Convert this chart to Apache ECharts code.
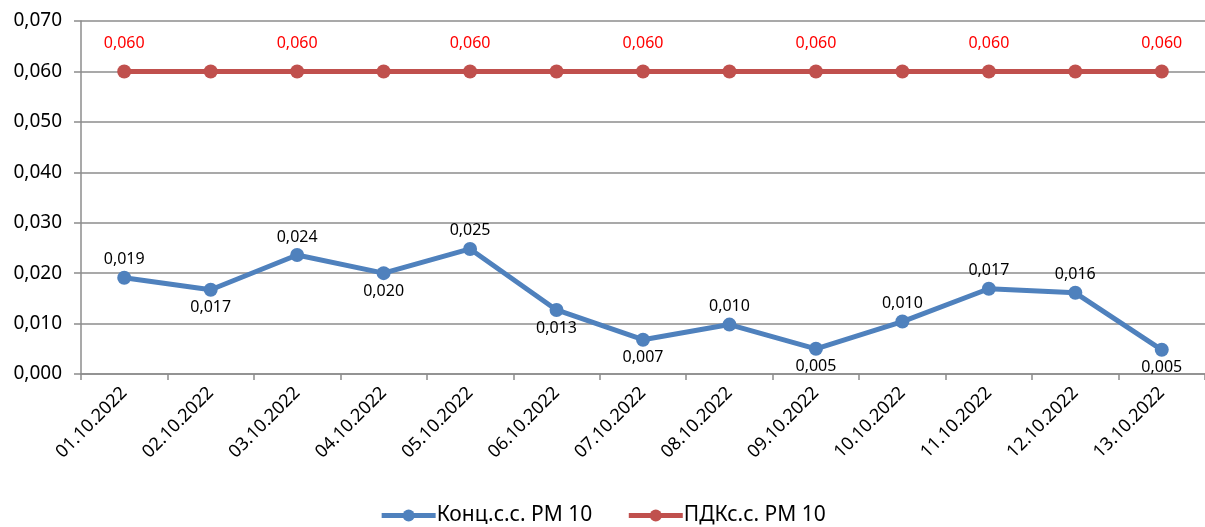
<!DOCTYPE html>
<html>
<head>
<meta charset="utf-8">
<script src="https://cdn.jsdelivr.net/npm/echarts@6/dist/echarts.min.js"></script>
<style>
html,body{margin:0;padding:0;background:#fff;}
#chart{width:1205px;height:527px;}
</style>
</head>
<body>
<div id="chart"></div>
<script>
const categories = ['01.10.2022','02.10.2022','03.10.2022','04.10.2022','05.10.2022','06.10.2022','07.10.2022','08.10.2022','09.10.2022','10.10.2022','11.10.2022','12.10.2022','13.10.2022'];
const concValues = [0.0191, 0.0167, 0.0236, 0.0200, 0.0248, 0.0127, 0.0068, 0.0098, 0.0050, 0.0104, 0.0169, 0.0161, 0.0048];
const concLabelPos = ['top','bottom','top','bottom','top','bottom','bottom','top','bottom','top','top','top','bottom'];
const pdkValues = [0.060, 0.060, 0.060, 0.060, 0.060, 0.060, 0.060, 0.060, 0.060, 0.060, 0.060, 0.060, 0.060];
const pdkLabelShown = [true,false,true,false,true,false,true,false,true,false,true,false,true];
const seriesNames = ['Конц.с.с. РМ 10', 'ПДКс.с. РМ 10'];

const fmt = v => Number(v).toFixed(3).replace('.', ',');
const FONT = 'Noto Sans';
const gridColor = '#8c8c8c';
const colors = ['#4f81bd', '#c0504d'];

const chart = echarts.init(document.getElementById('chart'));
chart.setOption({
  animation: false,
  textStyle: { fontFamily: FONT },
  grid: { left: 81, right: -8, top: 21, bottom: 153 },
  legend: {
    top: 500,
    left: 'center',
    itemWidth: 54,
    itemHeight: 15,
    itemGap: 34,
    textStyle: { fontFamily: FONT, fontSize: 21, color: '#000', padding: [0,0,0,-4] },
    data: seriesNames.map((n, i) => ({
      name: n,
      lineStyle: { width: 5, color: colors[i] },
      itemStyle: { color: colors[i] }
    }))
  },
  xAxis: {
    type: 'category',
    data: categories,
    boundaryGap: true,
    axisLine: { lineStyle: { color: gridColor, width: 1.5 } },
    axisTick: { show: true, length: 6, lineStyle: { color: gridColor, width: 1.5 } },
    axisLabel: { rotate: 45, fontSize: 18, color: '#000', fontFamily: FONT, margin: 16, interval: 0 }
  },
  yAxis: {
    type: 'value',
    min: 0, max: 0.07, interval: 0.01,
    axisLine: { show: true, lineStyle: { color: gridColor, width: 1.5 } },
    axisTick: { show: true, length: 7, lineStyle: { color: gridColor, width: 1.5 } },
    splitLine: { lineStyle: { color: gridColor, width: 1.5 } },
    axisLabel: { formatter: fmt, fontSize: 19, color: '#000', fontFamily: FONT, margin: 19 }
  },
  series: [
    {
      name: seriesNames[0],
      type: 'line',
      symbol: 'circle',
      symbolSize: 14,
      lineStyle: { color: colors[0], width: 5 },
      itemStyle: { color: colors[0] },
      data: concValues.map((v, i) => ({
        value: v,
        label: { show: true, position: concLabelPos[i], distance: 3 }
      })),
      label: { formatter: p => fmt(p.value), fontSize: 16, color: '#000', fontFamily: FONT }
    },
    {
      name: seriesNames[1],
      type: 'line',
      symbol: 'circle',
      symbolSize: 14,
      lineStyle: { color: colors[1], width: 5 },
      itemStyle: { color: colors[1] },
      data: pdkValues.map((v, i) => ({
        value: v,
        label: { show: pdkLabelShown[i], position: 'top', distance: 13 }
      })),
      label: { formatter: p => fmt(p.value), fontSize: 16, color: '#ff0000', fontFamily: FONT }
    }
  ]
});
</script>
</body>
</html>
